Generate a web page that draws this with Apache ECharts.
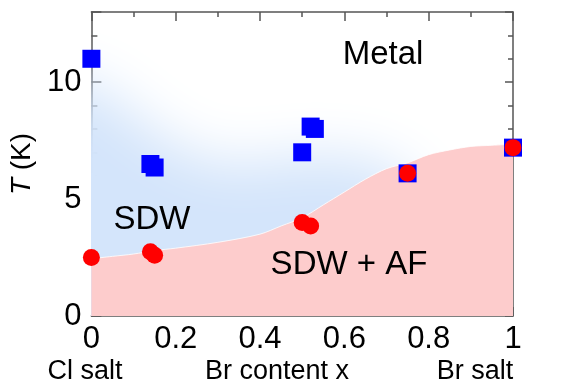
<!DOCTYPE html>
<html><head><meta charset="utf-8">
<script src="https://cdn.jsdelivr.net/npm/echarts@6/dist/echarts.min.js"></script>
<style>html,body{margin:0;padding:0;background:#fff}#c{width:569px;height:385px}</style>
</head><body><div id="c"></div>
<script>
// Metal -> SDW transition (blue squares)
const metalX = [0, 0.14, 0.15, 0.5, 0.52, 0.53, 0.75, 1.0];
const metalT = [11.0, 6.5, 6.35, 7.0, 8.1, 8.0, 6.1, 7.2];
// AF transition (red circles)
const afX = [0, 0.14, 0.15, 0.5, 0.52, 0.75, 1.0];
const afT = [2.5, 2.75, 2.6, 4.0, 3.85, 6.1, 7.2];
// SDW / SDW+AF boundary (pink region top)
const boundX = [0, 0.05, 0.1, 0.15, 0.2, 0.3, 0.4, 0.45, 0.5, 0.55, 0.6, 0.65, 0.7, 0.75, 0.8, 0.85, 0.9, 0.95, 1.0];
const boundT = [2.45, 2.55, 2.65, 2.8, 2.9, 3.15, 3.5, 3.85, 4.2, 4.75, 5.3, 5.85, 6.3, 6.55, 6.9, 7.1, 7.25, 7.3, 7.35];
// SDW shaded blob outline (blurred)
const sdwX = [-0.4, -0.4, 0, 0.1, 0.2, 0.3, 0.4, 0.5, 0.6, 0.68, 0.74, 0.8, 0.8];
const sdwT = [-3, 10.2, 9.9, 8.6, 7.3, 6.6, 6.6, 6.9, 6.8, 6.6, 6.0, 4, -3];
// tick labels
const yTickLabels = [0, 5, 10];
const xTickLabels = ['0', '0.2', '0.4', '0.6', '0.8', '1'];
// text labels
const regionLabels = ['Metal', 'SDW', 'SDW + AF'];
const bottomLabels = ['Cl salt', 'Br content x', 'Br salt'];

const FONT = '"Liberation Sans", Arial, sans-serif';
const AX = '#555';
const chart = echarts.init(document.getElementById('c'));

function xAx(pos, labels) {
  return {
    type: 'value', position: pos, min: 0, max: 1, interval: 0.2,
    axisLine: {show: true, onZero: false, lineStyle: {color: AX, width: 1.5}},
    axisTick: {show: true, inside: true, length: 9, lineStyle: {color: AX, width: 1.5}},
    minorTick: {show: true, splitNumber: 2, length: 5, lineStyle: {color: AX, width: 1.5}},
    splitLine: {show: false}, minorSplitLine: {show: false},
    axisLabel: labels ? {show: true, margin: 8, color: '#000', fontSize: 31, fontFamily: FONT,
      formatter: v => { const i = Math.round(v / 0.2); return xTickLabels[i] !== undefined ? xTickLabels[i] : ''; }} : {show: false}
  };
}
function yAx(pos, interval, len, labels, line) {
  return {
    type: 'value', position: pos, min: 0, max: 13, interval: interval,
    axisLine: {show: line, onZero: false, lineStyle: {color: AX, width: 1.5}},
    axisTick: {show: true, inside: true, length: len, lineStyle: {color: AX, width: 1.5}},
    splitLine: {show: false},
    axisLabel: labels ? {show: true, margin: 10, color: '#000', fontSize: 31, fontFamily: FONT,
      formatter: v => yTickLabels.indexOf(v) >= 0 ? String(v) : ''} : {show: false},
    name: labels ? '{i|T} (K)' : '', nameLocation: 'middle', nameRotate: 90, nameGap: 50,
    nameTextStyle: {fontSize: 28, color: '#000', fontFamily: FONT, rich: {i: {fontSize: 28, fontStyle: 'italic', fontFamily: FONT, color: '#000'}}}
  };
}

const option = {
  animation: false,
  backgroundColor: '#fff',
  grid: {left: 90, right: 56, top: 12, bottom: 69, containLabel: false},
  xAxis: [xAx('bottom', true), xAx('top', false)],
  yAxis: [yAx('left', 1, 6, true, true), yAx('left', 5, 10, false, false),
          yAx('right', 1, 5, false, true), yAx('right', 5, 8, false, false)],
  series: [
    {
      type: 'custom', clip: true, silent: true, z: 1, xAxisIndex: 0, yAxisIndex: 0,
      data: [[0, 0]],
      renderItem: function (params, api) {
        const OFF = 3000;
        const pts = sdwX.map((x, i) => { const p = api.coord([x, sdwT[i]]); return [p[0] + OFF, p[1]]; });
        return {type: 'polygon', shape: {points: pts, smooth: 0.3},
          style: {fill: '#d4e5fb', shadowBlur: 55, shadowColor: '#d4e5fb', shadowOffsetX: -OFF}};
      }
    },
    {
      type: 'line', z: 2, silent: true, symbol: 'none', smooth: 0.3, xAxisIndex: 0, yAxisIndex: 0,
      data: boundX.map((x, i) => [x, boundT[i]]),
      lineStyle: {color: '#ffffff', width: 1, opacity: 0.8},
      areaStyle: {color: '#fdcccc', opacity: 1, origin: 'start'}
    },
    {
      type: 'scatter', z: 3, symbol: 'rect', symbolSize: 18, xAxisIndex: 0, yAxisIndex: 0,
      itemStyle: {color: '#0000ff', opacity: 1},
      data: metalX.map((x, i) => [x, metalT[i]])
    },
    {
      type: 'scatter', z: 4, symbol: 'circle', symbolSize: 17, xAxisIndex: 0, yAxisIndex: 0,
      itemStyle: {color: '#ff0000', opacity: 1},
      data: afX.map((x, i) => [x, afT[i]])
    }
  ],
  graphic: [
    {type: 'text', x: 383, y: 55, z: 10, style: {text: regionLabels[0], font: '33px ' + FONT, fill: '#000', align: 'center', verticalAlign: 'middle'}},
    {type: 'text', x: 152, y: 220, z: 10, style: {text: regionLabels[1], font: '33px ' + FONT, fill: '#000', align: 'center', verticalAlign: 'middle'}},
    {type: 'text', x: 349, y: 265, z: 10, style: {text: regionLabels[2], font: '33px ' + FONT, fill: '#000', align: 'center', verticalAlign: 'middle'}},
    {type: 'text', x: 85, y: 372, z: 10, style: {text: bottomLabels[0], font: '27px ' + FONT, fill: '#000', align: 'center', verticalAlign: 'middle'}},
    {type: 'text', x: 277, y: 372, z: 10, style: {text: bottomLabels[1], font: '27px ' + FONT, fill: '#000', align: 'center', verticalAlign: 'middle'}},
    {type: 'text', x: 475, y: 372, z: 10, style: {text: bottomLabels[2], font: '27px ' + FONT, fill: '#000', align: 'center', verticalAlign: 'middle'}}
  ]
};
chart.setOption(option);
</script>
</body></html>
